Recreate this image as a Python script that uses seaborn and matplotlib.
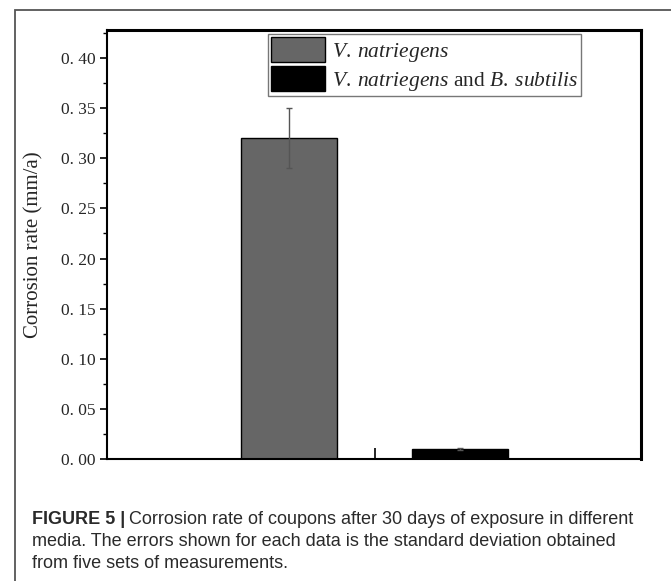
import matplotlib
matplotlib.use("Agg")
import matplotlib.pyplot as plt
from matplotlib.patches import Rectangle
from matplotlib.ticker import MultipleLocator, FixedLocator, NullFormatter
import seaborn as sns
import pandas as pd

# Corrosion rate data (mm/a), mean and standard deviation of five measurements
media = ["V. natriegens", "V. natriegens and B. subtilis"]
legend_labels = [r"$\it{V.\:natriegens}$",
                 r"$\it{V.\:natriegens}$ and $\it{B.\:subtilis}$"]
rate = [0.32, 0.01]
rate_sd = [0.03, 0.001]
bar_colors = ["#666666", "#000000"]
yticks = [0.00, 0.05, 0.10, 0.15, 0.20, 0.25, 0.30, 0.35, 0.40]
ytick_labels = ["0. 00", "0. 05", "0. 10", "0. 15", "0. 20", "0. 25", "0. 30", "0. 35", "0. 40"]

sns.set_theme(style="white")
plt.rcParams["font.family"] = ["Liberation Serif", "DejaVu Serif"]
plt.rcParams["mathtext.fontset"] = "custom"
plt.rcParams["mathtext.it"] = "Liberation Serif:italic"
plt.rcParams["mathtext.rm"] = "Liberation Serif"

W, H = 671, 581
fig = plt.figure(figsize=(W / 100, H / 100), dpi=100)

# outer figure frame
fig.patches.append(Rectangle((15 / W, -0.05), 1.2, 1 - 10 / H + 0.05,
                             transform=fig.transFigure, fill=False,
                             edgecolor="#555555", linewidth=1.3))

ax = fig.add_axes([107 / W, 1 - 459 / H, (641 - 107) / W, (459 - 30) / H])

df = pd.DataFrame({"medium": media, "rate": rate})
sns.barplot(data=df, x="medium", y="rate", hue="medium", palette=bar_colors,
            width=0.56, dodge=False, edgecolor="black", linewidth=1.0,
            legend=False, ax=ax)

# error bars from the bar centres
centers = [p.get_x() + p.get_width() / 2 for p in ax.patches[:len(rate)]]
for c, v, e in zip(centers, rate, rate_sd):
    ax.errorbar(c, v, yerr=e, fmt="none", ecolor="#555555", elinewidth=1.0,
                capsize=2.5, capthick=1.0, zorder=3)

ax.set_xlim(-1.064, 2.058)
ax.set_ylim(0, 0.428)

ax.set_yticks(yticks)
ax.set_yticklabels(ytick_labels, fontsize=12.5)
ax.yaxis.set_minor_locator(MultipleLocator(0.025))
ax.tick_params(axis="y", which="major", direction="out", length=5, width=1.2,
               left=True, color="black", pad=3)
ax.tick_params(axis="y", which="minor", direction="out", length=3, width=1.0,
               left=True, color="black")

ax.xaxis.set_major_locator(FixedLocator([0.5]))
ax.xaxis.set_major_formatter(NullFormatter())
ax.tick_params(axis="x", which="major", direction="in", length=8, width=1.2,
               bottom=True, color="black")

ax.set_xlabel("")
ax.set_ylabel("Corrosion rate (mm/a)", fontsize=15)
ax.yaxis.set_label_coords(-(107 - 43) / (641 - 107), 0.5)

for side in ["left", "right", "top", "bottom"]:
    ax.spines[side].set_visible(True)
    ax.spines[side].set_color("black")
ax.spines["left"].set_linewidth(1.5)
ax.spines["bottom"].set_linewidth(1.5)
ax.spines["right"].set_linewidth(2.2)
ax.spines["top"].set_linewidth(2.2)

handles = [Rectangle((0, 0), 1, 1, facecolor=c, edgecolor="black", linewidth=1.0)
           for c in bar_colors]
leg = ax.legend(handles, legend_labels, loc="upper left",
                bbox_to_anchor=(268 / W, 1 - 34 / H),
                bbox_transform=fig.transFigure, fontsize=15.5,
                frameon=True, fancybox=False, edgecolor="#777777",
                framealpha=1, handlelength=2.5, handleheight=1.4,
                handletextpad=0.3, labelspacing=0.1, borderpad=0.15,
                borderaxespad=0)
leg.get_frame().set_linewidth(1.0)

# figure caption
cap_font = ["Liberation Sans", "DejaVu Sans"]
cap_x = 32 / W
lines = ["Corrosion rate of coupons after 30 days of exposure in different",
         "media. The errors shown for each data is the standard deviation obtained",
         "from five sets of measurements."]
ys = [519, 541, 563]
t0 = fig.text(cap_x, 1 - ys[0] / H, "FIGURE 5 |", fontsize=13, fontweight="bold",
              family=cap_font, color="#2a2a2a", va="center", ha="left")
fig.canvas.draw()
bb = t0.get_window_extent()
fig.text((bb.x1 + 4) / W, 1 - ys[0] / H, lines[0], fontsize=13,
         family=cap_font, color="#2a2a2a", va="center", ha="left")
for ln, yy in zip(lines[1:], ys[1:]):
    fig.text(cap_x, 1 - yy / H, ln, fontsize=13, family=cap_font,
             color="#2a2a2a", va="center", ha="left")

fig.savefig("out.png", dpi=100)
